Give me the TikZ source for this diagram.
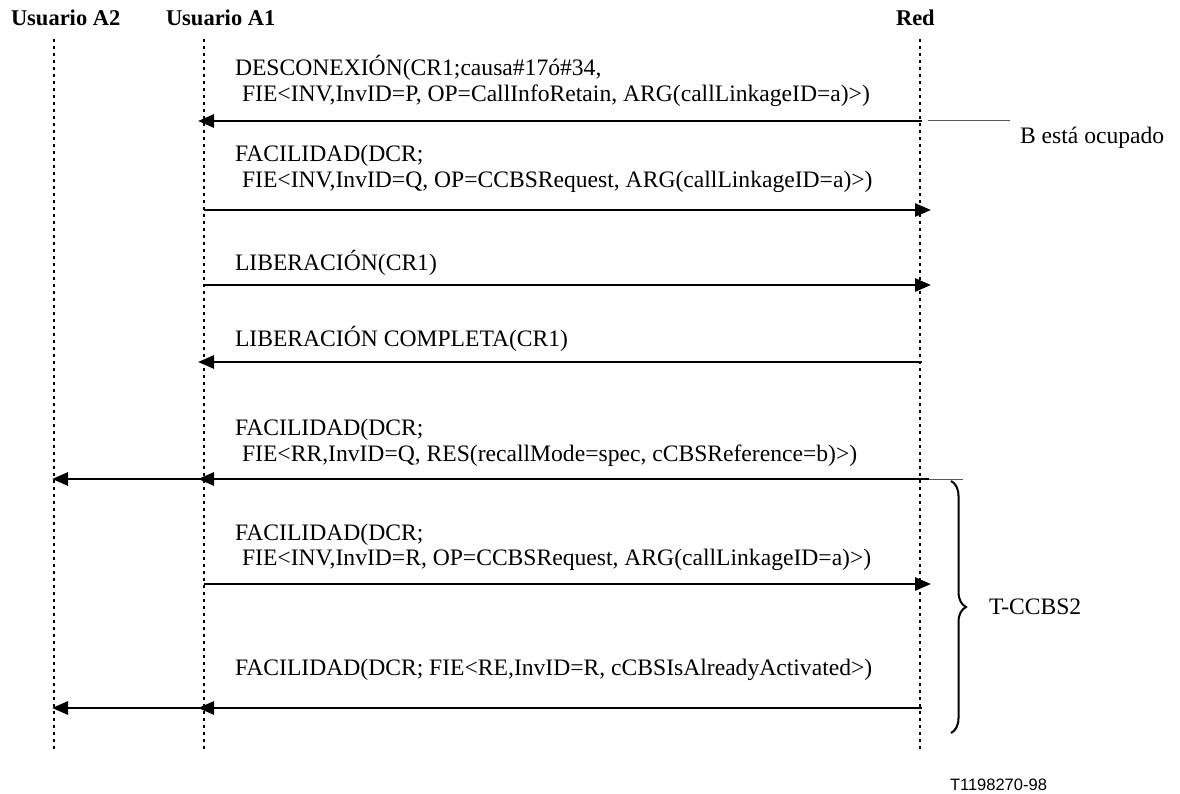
\documentclass[tikz,border=0pt]{standalone}
\usepackage{fontspec}
\setmainfont{Liberation Serif}
\newfontfamily\idfont{Liberation Sans}
\usetikzlibrary{arrows.meta,decorations.pathreplacing}
\begin{document}
\begin{tikzpicture}[x=1pt,y=-1pt,
  every node/.style={inner sep=0pt,outer sep=0pt},
  txt/.style={anchor=base west,font=\fontsize{23.6}{26}\selectfont},
  hdr/.style={anchor=base west,font=\fontsize{22.5}{26}\selectfont\bfseries},
  life/.style={line width=2.4pt,dash pattern=on 3pt off 4pt},
  msg/.style={line width=2.8pt,-{Triangle[length=16pt,width=13pt]}},
  thin/.style={line width=1pt,black!65}]
\useasboundingbox (0,0) rectangle (1180,794);
% headers
\node[hdr] (hA2) at (11,26) {Usuario A2};
\node[hdr] (hA1) at (166,26) {Usuario A1};
\node[hdr] (hR) at (896,26) {Red};
% lifelines
\coordinate (A2t) at (54,39);  \coordinate (A2b) at (54,750);
\coordinate (A1t) at (204,39); \coordinate (A1b) at (204,750);
\coordinate (Rt) at (920,39);  \coordinate (Rb) at (920,750);
\draw[life] (A2t) -- (A2b);
\draw[life] (A1t) -- (A1b);
\draw[life] (Rt) -- (Rb);
% message end points
\foreach \n/\y in {1/121,2/210,3/285,4/362,5/479,6/584,7/708}{
  \coordinate (A2in\n) at (52,\y);   % tip arriving at A2
  \coordinate (A1in\n) at (198,\y);  % tip arriving at A1
  \coordinate (A1out\n) at (204,\y); % start leaving A1
  \coordinate (Rout\n) at (922,\y);  % start leaving Red
  \coordinate (Rin\n) at (931,\y);   % tip arriving at Red
}
% block 1
\node[txt] (t1a) at (235,76) {DESCONEXIÓN(CR1;causa\#17ó\#34,};
\node[txt] (t1b) at (235,102) {\hspace*{0.3em}FIE<INV,InvID=P, OP=CallInfoRetain, ARG(callLinkageID=a)>)};
\draw[msg] (Rout1) -- (A1in1);
\coordinate (b1s) at (928,121); \coordinate (b1e) at (1010,121);
\draw[thin] (b1s) -- (b1e);
\node[txt] (busy) at (1020,144) {B está ocupado};
% block 2
\node[txt] (t2a) at (235,162) {FACILIDAD(DCR;};
\node[txt] (t2b) at (235,188) {\hspace*{0.3em}FIE<INV,InvID=Q, OP=CCBSRequest, ARG(callLinkageID=a)>)};
\draw[msg] (A1out2) -- (Rin2);
% block 3
\node[txt] (t3a) at (235,270) {LIBERACIÓN(CR1)};
\draw[msg] (A1out3) -- (Rin3);
% block 4
\node[txt] (t4a) at (235,346) {LIBERACIÓN COMPLETA(CR1)};
\draw[msg] (Rout4) -- (A1in4);
% block 5
\node[txt] (t5a) at (235,435) {FACILIDAD(DCR;};
\node[txt] (t5b) at (235,461) {\hspace*{0.3em}FIE<RR,InvID=Q, RES(recallMode=spec, cCBSReference=b)>)};
\coordinate (b5s) at (929,479);
\draw[msg] (b5s) -- (A1in5);
\draw[msg] (A1out5) -- (A2in5);
\coordinate (b5e) at (963,479);
\draw[thin] (b5s) -- (b5e);
% block 6
\node[txt] (t6a) at (235,540) {FACILIDAD(DCR;};
\node[txt] (t6b) at (235,565) {\hspace*{0.3em}FIE<INV,InvID=R, OP=CCBSRequest, ARG(callLinkageID=a)>)};
\draw[msg] (A1out6) -- (Rin6);
% block 7
\node[txt] (t7a) at (235,675) {FACILIDAD(DCR; FIE<RE,InvID=R, cCBSIsAlreadyActivated>)};
\draw[msg] (Rout7) -- (A1in7);
\draw[msg] (A1out7) -- (A2in7);
% brace
\coordinate (brT) at (951,481); \coordinate (brB) at (951,733);
\draw[line width=2pt,decorate,decoration={brace,amplitude=15pt}] (brT) -- (brB);
\node[txt] (tccbs) at (989,614) {T-CCBS2};
% figure id
\node[anchor=base west,font=\fontsize{16.5}{19}\selectfont\idfont] (fid) at (950,790) {T1198270-98};
\end{tikzpicture}
\end{document}
